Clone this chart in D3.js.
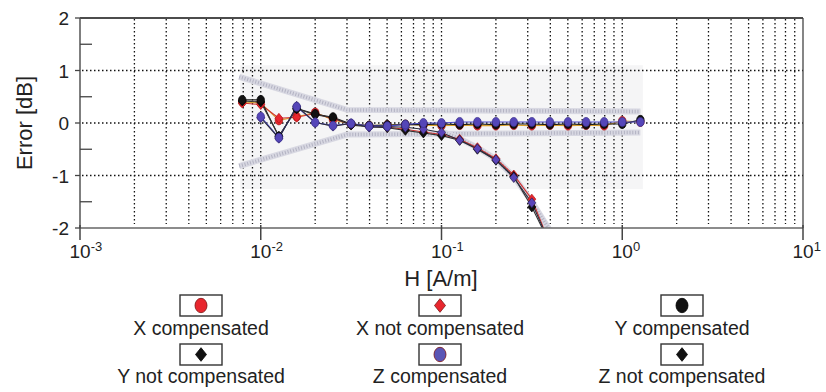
<!DOCTYPE html>
<html><head><meta charset="utf-8">
<script src="https://cdn.jsdelivr.net/npm/d3@7"></script>
<style>
html,body{margin:0;padding:0;background:#fff;}
svg{display:block;font-family:"Liberation Sans",Arial,sans-serif;}
</style></head>
<body><svg id="c" width="826" height="392"></svg>
<script>
// ---- data ----
const H = [0.0079,0.01,0.0126,0.0158,0.02,0.0251,0.0316,0.0398,0.0501,0.0631,0.0794,0.1,0.126,0.158,0.2,0.251,0.316,0.398,0.501,0.631,0.794,1.0,1.26];
const xComp    = [0.40,0.38,0.05,0.12,0.20,0.06,-0.02,-0.05,-0.04,-0.03,-0.04,-0.05,-0.04,-0.05,-0.05,-0.04,-0.05,-0.04,-0.05,-0.04,-0.05,0.04,0.02];
const xNotComp = [0.38,0.35,0.09,0.11,0.18,0.08,-0.03,-0.06,-0.08,-0.12,-0.17,-0.22,-0.31,-0.47,-0.68,-0.99,-1.45,-2.3,null,null,null,null,null];
const yComp    = [0.44,0.44,-0.26,0.28,0.17,0.11,-0.02,-0.05,-0.04,-0.03,-0.03,-0.02,-0.03,-0.02,-0.03,-0.02,-0.02,-0.03,-0.02,-0.03,-0.02,-0.02,0.06];
const yNotComp = [0.42,0.40,-0.25,0.27,0.16,0.10,-0.04,-0.07,-0.09,-0.14,-0.19,-0.24,-0.33,-0.50,-0.71,-1.02,-1.60,-2.3,null,null,null,null,null];
const zComp    = [null,0.12,-0.28,0.31,0.01,-0.05,-0.01,-0.06,-0.06,-0.03,0.0,0.0,0.02,0.02,0.02,0.02,0.02,0.02,0.02,0.02,0.02,0.02,0.02];
const zNotComp = [null,0.10,-0.29,0.32,0.01,-0.06,-0.01,-0.08,-0.07,-0.08,-0.12,-0.18,-0.33,-0.49,-0.70,-1.04,-1.52,-2.3,null,null,null,null,null];

// tolerance band (limits)
const bandH     = [0.0076,0.030,1.26];
const bandUpper = [0.88,0.25,0.22];
const bandLower = [-0.82,-0.22,-0.18];
// roll-off band for not compensated
const rollH   = [0.1,0.126,0.158,0.2,0.251,0.316,0.398,0.45];
const rollVal = [-0.16,-0.30,-0.47,-0.69,-1.02,-1.50,-2.05,-2.4];
// shaded region
const shadeH = [0.0077,1.3];
const shadeV = [-1.26,1.10];

const yTicks = [2,1,0,-1,-2];
const yMinor = [1.5,0.5,-0.5,-1.5];
const yGrid = [1,0,-1];
const xDecades = [-3,-2,-1,0,1];

const series = [
  {name:"X compensated",     vals:xComp,    sym:"circle",  fill:"#e8262e", stroke:"#a01818", line:"#d9a02a", lfill:"#e8262e"},
  {name:"X not compensated", vals:xNotComp, sym:"diamond", fill:"#e8262e", stroke:"#b01818", line:"#d03030", lfill:"#e8262e"},
  {name:"Y compensated",     vals:yComp,    sym:"circle",  fill:"#111",    stroke:"#000",    line:"#1d1d1d", lfill:"#111"},
  {name:"Y not compensated", vals:yNotComp, sym:"diamond", fill:"#111",    stroke:"#000",    line:"#333",    lfill:"#111"},
  {name:"Z compensated",     vals:zComp,    sym:"circle",  fill:"#5546b8", stroke:"#3a2e8a", line:"#4a4ac8", lfill:"#5a55b5"},
  {name:"Z not compensated", vals:zNotComp, sym:"diamond", fill:"#5a44b8", stroke:"#2a2050", line:"#2c2c3c", lfill:"#111"}
];

// ---- layout ----
const svg = d3.select("#c");
const L=80,R=803,T=18,B=228;
const x = d3.scaleLog().domain([1e-3,10]).range([L,R]);
const y = d3.scaleLinear().domain([-2,2]).range([B,T]);

svg.append("defs").append("clipPath").attr("id","clip")
  .append("rect").attr("x",L).attr("y",T).attr("width",R-L).attr("height",B-T);

// shaded region
svg.append("rect")
  .attr("x",x(shadeH[0])).attr("y",y(shadeV[1]))
  .attr("width",x(shadeH[1])-x(shadeH[0])).attr("height",y(shadeV[0])-y(shadeV[1]))
  .attr("fill","#f5f5f6");

// grid
const g = svg.append("g");
const minorVals = [];
for (let k=-3;k<=0;k++) for (let m=1;m<=9;m++) { if(!(k===-3&&m===1)) minorVals.push(m*Math.pow(10,k)); }
g.selectAll("line.vg").data(minorVals).join("line")
  .attr("x1",d=>x(d)).attr("x2",d=>x(d)).attr("y1",T+1).attr("y2",B-4)
  .attr("stroke","#111").attr("stroke-width",1.3).attr("stroke-dasharray","1.5,2.5");
g.selectAll("line.hg").data(yGrid).join("line")
  .attr("x1",L+2).attr("x2",R).attr("y1",d=>y(d)).attr("y2",d=>y(d))
  .attr("stroke","#111").attr("stroke-width",1.3).attr("stroke-dasharray","1.5,2.5");

// bands
const cp = svg.append("g").attr("clip-path","url(#clip)");
function band(pts){
  const ln = d3.line().x(d=>x(d[0])).y(d=>y(d[1]));
  cp.append("path").attr("d",ln(pts)).attr("fill","none").attr("stroke","#d8d8e2").attr("stroke-width",6);
  cp.append("path").attr("d",ln(pts)).attr("fill","none").attr("stroke","#9a9aae").attr("stroke-width",3.5).attr("stroke-dasharray","1,1.8").attr("opacity",0.6);
}
band(bandH.map((h,i)=>[h,bandUpper[i]]));
band(bandH.map((h,i)=>[h,bandLower[i]]));
band(rollH.map((h,i)=>[h,rollVal[i]]));

// lines
series.forEach(s=>{
  const ln = d3.line().defined(d=>d[1]!==null).x(d=>x(d[0])).y(d=>y(d[1]));
  cp.append("path").attr("d",ln(H.map((h,i)=>[h,s.vals[i]])))
    .attr("fill","none").attr("stroke",s.line).attr("stroke-width",1.1);
});
// markers
function sym(sel,type,cx,cy,sz){
  if(type==="circle") return sel.append("ellipse").attr("cx",cx).attr("cy",cy).attr("rx",sz*0.5).attr("ry",sz*0.6);
  const w=sz*0.5,h=sz*0.62;
  return sel.append("path").attr("d",`M${cx},${cy-h}L${cx+w},${cy}L${cx},${cy+h}L${cx-w},${cy}Z`);
}
const order=[0,1,3,2,5,4];
order.forEach(si=>{
  const s=series[si];
  H.forEach((h,i)=>{
    const v=s.vals[i]; if(v===null) return;
    sym(cp,s.sym,x(h),y(v),s.sym==="circle"?7.5:8).attr("fill",s.fill).attr("stroke",s.stroke).attr("stroke-width",0.7);
  });
});

// frame
svg.append("line").attr("x1",L).attr("x2",R).attr("y1",T).attr("y2",T).attr("stroke","#111").attr("stroke-width",1.3);
svg.append("line").attr("x1",R).attr("x2",R).attr("y1",T).attr("y2",B).attr("stroke","#444").attr("stroke-width",1.3);
svg.append("line").attr("x1",L).attr("x2",R).attr("y1",B).attr("y2",B).attr("stroke","#666").attr("stroke-width",1.5);
svg.append("line").attr("x1",L).attr("x2",L).attr("y1",T).attr("y2",B).attr("stroke","#555").attr("stroke-width",1.5);

// y ticks
svg.selectAll("line.yt").data(yTicks).join("line")
  .attr("x1",L-5).attr("x2",L).attr("y1",d=>y(d)).attr("y2",d=>y(d)).attr("stroke","#444").attr("stroke-width",1.3);
svg.selectAll("line.ym").data(yMinor).join("line")
  .attr("x1",L).attr("x2",L+12).attr("y1",d=>y(d)).attr("y2",d=>y(d)).attr("stroke","#444").attr("stroke-width",1.3);
svg.selectAll("text.yl").data(yTicks).join("text")
  .attr("x",69).attr("y",d=>y(d)+7).attr("text-anchor","end")
  .attr("font-size",19).attr("fill","#222").text(d=>d);

// x ticks
svg.selectAll("line.xt").data(xDecades).join("line")
  .attr("x1",d=>x(Math.pow(10,d))).attr("x2",d=>x(Math.pow(10,d)))
  .attr("y1",B-3).attr("y2",B+12).attr("stroke","#444").attr("stroke-width",1.5);
const xl = svg.selectAll("text.xl").data(xDecades).join("text")
  .attr("x",d=>x(Math.pow(10,d))-10.5).attr("y",258)
  .attr("font-size",19).attr("fill","#222");
xl.append("tspan").text("10");
xl.append("tspan").attr("dy",-7).attr("font-size",13).text(d=>d===0?"0":(d>0?String(d):"-"+Math.abs(d)));

// axis titles
svg.append("text").attr("x",441).attr("y",286).attr("text-anchor","middle")
  .attr("font-size",22).attr("fill","#222").text("H [A/m]");
svg.append("text").attr("transform","translate(32,123) rotate(-90)").attr("text-anchor","middle")
  .attr("font-size",22).attr("fill","#222").text("Error [dB]");

// legend
const colC=[201,440,682], rowTop=[295,344], rowBase=[335,383];
series.forEach((s,i)=>{
  const c=i%3, r=Math.floor(i/3);
  const cx=colC[c];
  svg.append("rect").attr("x",cx-21).attr("y",rowTop[r]).attr("width",42).attr("height",21)
    .attr("fill","#fff").attr("stroke","#333").attr("stroke-width",1.4);
  sym(svg,s.sym,cx,rowTop[r]+10.5,s.sym==="circle"?12:11).attr("fill",s.lfill).attr("stroke",s.lfill==="#111"?"#000":"#7a1010").attr("stroke-width",0.8);
  svg.append("text").attr("x",cx).attr("y",rowBase[r]).attr("text-anchor","middle")
    .attr("font-size",19.5).attr("fill","#222").text(s.name);
});
</script></body></html>
